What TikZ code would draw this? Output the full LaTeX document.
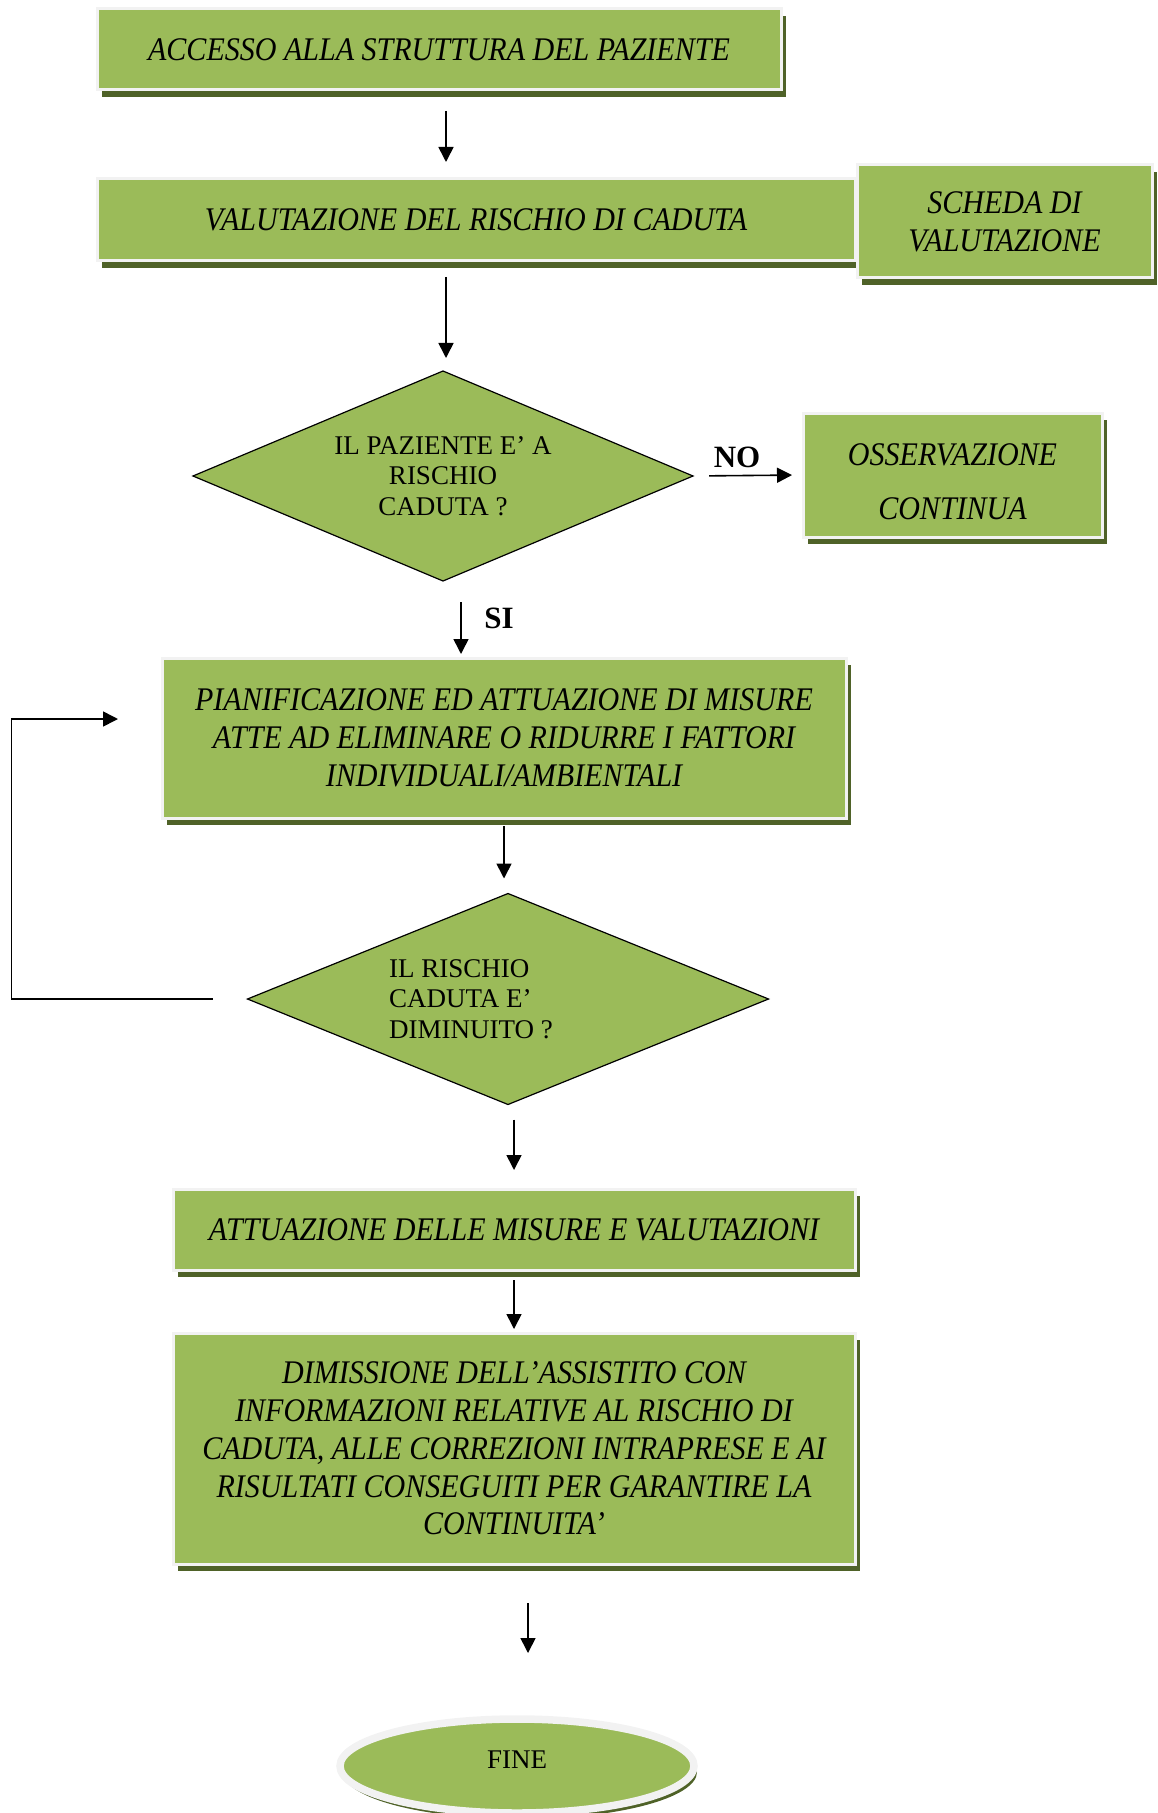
\documentclass[tikz,border=0pt]{standalone}
\usepackage{fontspec}
\setmainfont{Liberation Serif}
\newfontfamily\boxfont[FakeStretch=0.91]{Liberation Serif}
\usetikzlibrary{shapes.geometric,shadows,arrows.meta}
\definecolor{olivefill}{HTML}{9BBB59}
\definecolor{oliveshade}{HTML}{4F6228}
\definecolor{rimgray}{HTML}{F2F2F2}
\tikzset{
  greenbox/.style={rectangle, fill=olivefill, draw=rimgray, line width=1.5pt,
    inner sep=0pt, outer sep=0pt, align=center,
    font=\boxfont\itshape\fontsize{16.5}{18.9}\selectfont,
    drop shadow={fill=oliveshade, opacity=1, shadow xshift=2.5pt, shadow yshift=-3.5pt}},
  question/.style={diamond, shape aspect=2.38, fill=olivefill, draw=black, line width=0.6pt,
    inner sep=0pt, outer sep=0pt, align=center,
    font=\fontsize{13.5}{15.3}\selectfont},
  endcap/.style={ellipse, fill=olivefill, draw=rimgray, line width=3.75pt,
    inner sep=0pt, outer sep=0pt, font=\fontsize{13.5}{16}\selectfont,
    drop shadow={fill=oliveshade, opacity=1, shadow xshift=1.5pt, shadow yshift=-3pt}},
  flowarrow/.style={-{Triangle[length=7.5pt,width=7.5pt]}, line width=0.8pt},
  answer/.style={font=\bfseries\fontsize{15.5}{18}\selectfont}
}
\begin{document}
\begin{tikzpicture}[x=0.5pt,y=-0.5pt]
   \useasboundingbox (0,0) rectangle (1157,1813);
   % boxes and questions
   \node[greenbox, minimum width=342pt, minimum height=40.5pt] (acc) at (439,49.5) {ACCESSO ALLA STRUTTURA DEL PAZIENTE};
   \node[greenbox, minimum width=379pt, minimum height=41pt] (val) at (476,220) {VALUTAZIONE DEL RISCHIO DI CADUTA};
   \node[greenbox, minimum width=147.5pt, minimum height=56.5pt] (scheda) at (1004.5,221.5) {SCHEDA DI\\VALUTAZIONE};
   \node[question, minimum width=250pt, minimum height=105pt] (d1) at (443,476) {IL PAZIENTE E’ A\\RISCHIO\\CADUTA ?};
   \node[greenbox, minimum width=149.5pt, minimum height=62pt] (oss) at (952.5,475) {\rule{0pt}{18pt}OSSERVAZIONE\\[8pt]CONTINUA};
   \node[greenbox, minimum width=342pt, minimum height=80pt] (pian) at (504,738) {PIANIFICAZIONE ED ATTUAZIONE DI MISURE\\ATTE AD ELIMINARE O RIDURRE I FATTORI\\INDIVIDUALI/AMBIENTALI};
   \node[question, minimum width=260.5pt, minimum height=105.5pt] (d2) at (508,999) {};
   \node[align=left, inner sep=0pt, font=\fontsize{13.5}{15.3}\selectfont] (d2txt) at (471,999) {IL RISCHIO\\CADUTA E’\\DIMINUITO ?};
   \node[greenbox, minimum width=341pt, minimum height=40.5pt] (att) at (514,1229.5) {ATTUAZIONE DELLE MISURE E VALUTAZIONI};
   \node[greenbox, minimum width=341pt, minimum height=115.5pt] (dim) at (514,1448.5) {DIMISSIONE DELL’ASSISTITO CON\\INFORMAZIONI RELATIVE AL RISCHIO DI\\CADUTA, ALLE CORREZIONI INTRAPRESE E AI\\RISULTATI CONSEGUITI PER GARANTIRE LA\\CONTINUITA’};
   \node[endcap, minimum width=177pt, minimum height=47pt] (fine) at (517,1766) {\raisebox{6pt}{FINE}};
   % arrows
   \draw[flowarrow, shorten <=10.5pt, shorten >=8.5pt] ([xshift=1.5pt]d1.north |- acc.south) -- ([xshift=1.5pt]d1.north |- val.north);
   \draw[flowarrow, shorten <=8pt, shorten >=6.5pt] ([xshift=1.5pt]d1.north |- val.south) -- ([xshift=1.5pt]d1.north);
   \draw[flowarrow, shorten <=8pt, shorten >=5.5pt] (d1.east) -- node[answer, pos=0.4, above] {NO} (oss.west);
   \draw[flowarrow, shorten <=10.5pt, shorten >=2pt] ([xshift=9pt]d1.south) -- node[answer, pos=0.48, right=8pt] {SI} ([xshift=9pt]d1.south |- pian.north);
   \draw[flowarrow, shorten <=4pt, shorten >=7.5pt] (pian.south) -- (pian.south |- d2.north);
   \draw[flowarrow, shorten <=7.5pt, shorten >=9.5pt] (att.north |- d2.south) -- (att.north);
   \draw[flowarrow, shorten <=5pt, shorten >=2pt] (att.south) -- (dim.north);
   \draw[flowarrow, shorten <=19.5pt, shorten >=33pt] ([xshift=7pt]dim.south) -- ([xshift=7pt]dim.south |- fine.north);
   % loop back
   \coordinate (back) at (118,719);
   \draw[flowarrow, shorten <=17.5pt] (d2.west) -- ++(-236,0) |- (back);
\end{tikzpicture}
\end{document}
